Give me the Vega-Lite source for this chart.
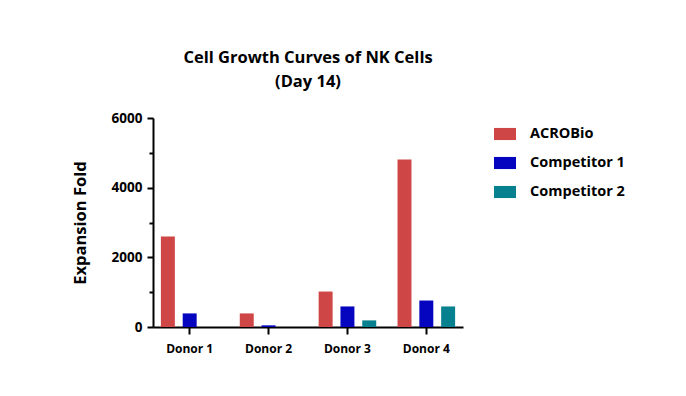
{
  "$schema": "https://vega.github.io/schema/vega-lite/v6.json",
  "autosize": {"type": "none"},
  "padding": {"left": 153, "top": 118, "right": 223, "bottom": 69},
  "width": 310,
  "height": 209,
  "background": "white",
  "title": {
    "text": ["Cell Growth Curves of NK Cells", "(Day 14)"],
    "font": "Open Sans",
    "fontSize": 16.5,
    "fontWeight": "bold",
    "lineHeight": 24,
    "offset": 21,
    "anchor": "middle",
    "color": "black"
  },
  "data": {
    "values": [
      {"donor": "Donor 1", "group": "ACROBio", "value": 2595},
      {"donor": "Donor 1", "group": "Competitor 1", "value": 390},
      {"donor": "Donor 1", "group": "Competitor 2", "value": 0},
      {"donor": "Donor 2", "group": "ACROBio", "value": 390},
      {"donor": "Donor 2", "group": "Competitor 1", "value": 48},
      {"donor": "Donor 2", "group": "Competitor 2", "value": 0},
      {"donor": "Donor 3", "group": "ACROBio", "value": 1018},
      {"donor": "Donor 3", "group": "Competitor 1", "value": 590},
      {"donor": "Donor 3", "group": "Competitor 2", "value": 190},
      {"donor": "Donor 4", "group": "ACROBio", "value": 4810},
      {"donor": "Donor 4", "group": "Competitor 1", "value": 760},
      {"donor": "Donor 4", "group": "Competitor 2", "value": 590}
    ]
  },
  "mark": {"type": "bar"},
  "encoding": {
    "x": {
      "field": "donor",
      "type": "nominal",
      "scale": {"paddingInner": 0.27, "paddingOuter": 0.1},
      "axis": {
        "title": null,
        "labelAngle": 0,
        "labelFont": "Open Sans",
        "labelFontSize": 12,
        "labelFontWeight": "bold",
        "labelColor": "black",
        "labelPadding": 9,
        "domainColor": "black",
        "domainWidth": 2,
        "tickColor": "black",
        "tickWidth": 2,
        "tickSize": 7
      }
    },
    "xOffset": {
      "field": "group",
      "type": "nominal",
      "scale": {"paddingInner": 0.36, "paddingOuter": 0}
    },
    "y": {
      "field": "value",
      "type": "quantitative",
      "scale": {"domain": [0, 6000], "nice": false},
      "axis": {
        "title": "Expansion Fold",
        "titleFont": "Open Sans",
        "titleFontSize": 16.5,
        "titleFontWeight": "bold",
        "titleColor": "black",
        "titlePadding": 23,
        "values": [0, 1000, 2000, 3000, 4000, 5000, 6000],
        "labelExpr": "datum.value % 2000 == 0 ? datum.label : ''",
        "format": "d",
        "labelFont": "Open Sans",
        "labelFontSize": 13.5,
        "labelFontWeight": "bold",
        "labelColor": "black",
        "labelPadding": 5,
        "grid": false,
        "domainColor": "black",
        "domainWidth": 2,
        "tickColor": "black",
        "tickWidth": 2,
        "tickSize": {"condition": {"test": "datum.value % 2000 == 0", "value": 6}, "value": 4}
      }
    },
    "color": {
      "field": "group",
      "type": "nominal",
      "scale": {
        "domain": ["ACROBio", "Competitor 1", "Competitor 2"],
        "range": ["#CF4646", "#0505BF", "#07808F"]
      },
      "legend": {
        "title": null,
        "orient": "none",
        "legendX": 341,
        "legendY": 5,
        "symbolType": "M-1,-0.55H1V0.55H-1Z",
        "symbolSize": 484,
        "symbolStrokeWidth": 0,
        "symbolOpacity": 1,
        "labelFont": "Open Sans",
        "labelFontSize": 14.5,
        "labelFontWeight": "bold",
        "labelColor": "black",
        "labelOffset": 14,
        "rowPadding": 11,
        "labelLimit": 200
      }
    }
  },
  "config": {"view": {"stroke": null}}
}
